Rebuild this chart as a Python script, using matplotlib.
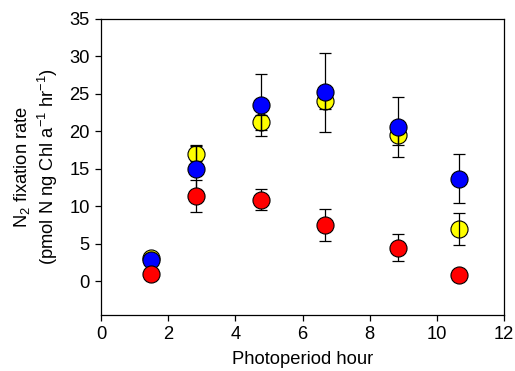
import numpy as np
import matplotlib
matplotlib.use('Agg')
import matplotlib.pyplot as plt

plt.rcParams['font.family'] = ['Liberation Sans', 'DejaVu Sans']
plt.rcParams['mathtext.fontset'] = 'custom'
plt.rcParams['mathtext.rm'] = 'Liberation Sans'
plt.rcParams['mathtext.it'] = 'Liberation Sans:italic'

# photoperiod hours
hours = [1.5, 2.83, 4.75, 6.67, 8.83, 10.67]

# three series
red_vals = [1.0, 11.4, 10.9, 7.5, 4.5, 0.8]
red_err = [0.0, 2.1, 1.4, 2.1, 1.8, 0.0]

yellow_vals = [3.1, 17.0, 21.2, 24.0, 19.5, 7.0]
yellow_err = [0.0, 1.0, 1.0, 1.0, 1.3, 2.1]

blue_vals = [2.8, 15.0, 23.5, 25.2, 20.6, 13.7]
blue_err = [0.0, 3.2, 4.1, 5.3, 4.0, 3.3]

fig = plt.figure(figsize=(5.15, 3.71), dpi=100)
ax = fig.add_axes([0.196, 0.151, 0.783, 0.798])

ms = 12.3
# yellow markers first, then error bars over them, then blue markers
ax.plot(hours, yellow_vals, 'o', ms=ms, mfc='#ffff00', mec='black', mew=0.8, zorder=2)
ax.errorbar(hours, yellow_vals, yerr=yellow_err, fmt='none', ecolor='black',
            elinewidth=0.9, capsize=4, capthick=0.9, zorder=3)
ax.errorbar(hours, blue_vals, yerr=blue_err, fmt='none', ecolor='black',
            elinewidth=0.9, capsize=4, capthick=0.9, zorder=3)
ax.plot(hours, blue_vals, 'o', ms=ms, mfc='#0000ff', mec='black', mew=0.8, zorder=4)
ax.errorbar(hours, red_vals, yerr=red_err, fmt='none', ecolor='black',
            elinewidth=0.9, capsize=4, capthick=0.9, zorder=3)
ax.plot(hours, red_vals, 'o', ms=ms, mfc='#ff0000', mec='black', mew=0.8, zorder=4)

ax.set_xlim(0, 12)
ax.set_ylim(-4.5, 35)
ax.set_xticks(np.arange(0, 13, 2))
ax.set_yticks(np.arange(0, 36, 5))
ax.tick_params(direction='out', length=4, width=0.9, labelsize=13.2, pad=4)
for s in ax.spines.values():
    s.set_linewidth(0.9)

ax.set_xlabel('Photoperiod hour', fontsize=13.2, labelpad=6)
ax.set_ylabel('N$_2$ fixation rate\n(pmol N ng Chl a$^{-1}$ hr$^{-1}$)', fontsize=13.2,
              labelpad=7, linespacing=1.2)

fig.savefig('out.png', dpi=100)
